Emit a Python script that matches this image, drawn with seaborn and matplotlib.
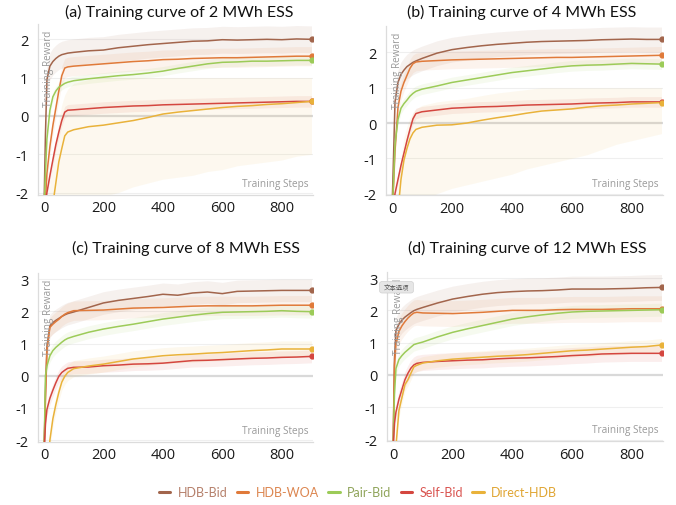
import numpy as np
import pandas as pd
import matplotlib
matplotlib.use("Agg")
import matplotlib.pyplot as plt
import seaborn as sns
from matplotlib.patches import FancyBboxPatch
from matplotlib.lines import Line2D

# ---------------- data ----------------
steps = [0, 5, 10, 20, 30, 40, 50, 60, 70, 80, 100, 150, 200, 250, 300, 350,
         400, 450, 500, 550, 600, 650, 700, 750, 800, 850, 900]

series_names = ["HDB-Bid", "HDB-WOA", "Pair-Bid", "Self-Bid", "Direct-HDB"]
line_colors = ["#a2654c", "#e07a3a", "#9ccb58", "#d4463f", "#e9b23a"]
label_colors = ["#b5806b", "#dc8650", "#8fa45a", "#d9534f", "#e0a533"]

titles = ["(a) Training curve of 2 MWh ESS", "(b) Training curve of 4 MWh ESS",
          "(c) Training curve of 8 MWh ESS", "(d) Training curve of 12 MWh ESS"]
yticks_ab = [-2, -1, 0, 1, 2]
yticks_cd = [-2, -1, 0, 1, 2, 3]
xticks = [0, 200, 400, 600, 800]

# (a) 2 MWh
a_hdb_bid = [-2.5, -0.5, 0.95, 1.3, 1.42, 1.5, 1.56, 1.6, 1.62, 1.64, 1.66, 1.7, 1.72, 1.78,
             1.82, 1.86, 1.89, 1.92, 1.95, 1.96, 1.99, 1.98, 1.99, 2.0, 1.99, 2.01, 2.0]
a_hdb_woa = [-2.5, -2.2, -1.5, -0.8, -0.25, 0.2, 0.65, 1.05, 1.25, 1.28, 1.3, 1.33, 1.36, 1.39,
             1.42, 1.44, 1.47, 1.48, 1.5, 1.51, 1.52, 1.52, 1.53, 1.54, 1.55, 1.56, 1.56]
a_pair_bid = [-2.5, -1.5, -0.6, 0.15, 0.5, 0.65, 0.75, 0.8, 0.85, 0.88, 0.92, 0.97, 1.01, 1.05,
              1.08, 1.12, 1.17, 1.24, 1.3, 1.36, 1.4, 1.41, 1.43, 1.43, 1.44, 1.45, 1.45]
a_self_bid = [-2.6, -2.3, -2.0, -1.56, -1.15, -0.75, -0.42, -0.12, 0.1, 0.15, 0.16, 0.19, 0.22,
              0.24, 0.26, 0.27, 0.29, 0.3, 0.31, 0.32, 0.33, 0.34, 0.35, 0.36, 0.37, 0.38, 0.38]
a_direct = [-3.0, -3.0, -3.0, -2.8, -2.3, -1.75, -1.2, -0.85, -0.52, -0.42, -0.36, -0.28, -0.24,
            -0.18, -0.12, -0.04, 0.05, 0.1, 0.14, 0.18, 0.22, 0.25, 0.27, 0.3, 0.32, 0.35, 0.38]
a_band = [0.35, 0.25, 0.12, 0.15]
a_direct_lo = [-3.0, -3.0, -3.0, -3.0, -3.0, -3.0, -3.0, -3.0, -3.0, -2.6, -2.4, -2.2, -2.1,
               -2.0, -1.85, -1.75, -1.65, -1.6, -1.55, -1.45, -1.4, -1.3, -1.25, -1.2, -1.15,
               -1.05, -1.0]
a_direct_hi = [-2.5, -2.4, -2.2, -1.8, -1.2, -0.6, -0.1, 0.3, 0.55, 0.7, 0.85, 0.95, 1.0, 1.0,
               1.0, 1.0, 1.0, 1.0, 1.0, 1.0, 1.0, 1.0, 1.0, 1.0, 1.0, 1.0, 1.0]

# (b) 4 MWh
b_hdb_bid = [-2.5, -1.0, 0.6, 1.15, 1.38, 1.5, 1.6, 1.66, 1.72, 1.76, 1.83, 1.98, 2.08, 2.14,
             2.19, 2.23, 2.26, 2.29, 2.31, 2.32, 2.33, 2.34, 2.36, 2.37, 2.38, 2.37, 2.37]
b_hdb_woa = [-2.6, -1.8, -0.8, 0.45, 0.9, 1.15, 1.35, 1.55, 1.68, 1.73, 1.75, 1.77, 1.79, 1.8,
             1.81, 1.82, 1.83, 1.84, 1.85, 1.86, 1.86, 1.87, 1.88, 1.89, 1.9, 1.91, 1.92]
b_pair_bid = [-2.6, -1.7, -0.6, 0.1, 0.42, 0.55, 0.65, 0.76, 0.84, 0.9, 0.96, 1.05, 1.15, 1.22,
              1.29, 1.36, 1.43, 1.48, 1.53, 1.58, 1.62, 1.64, 1.65, 1.67, 1.69, 1.68, 1.67]
b_self_bid = [-2.8, -2.4, -2.0, -1.6, -1.2, -0.85, -0.5, -0.18, 0.12, 0.27, 0.32, 0.37, 0.42,
              0.44, 0.46, 0.47, 0.49, 0.51, 0.52, 0.53, 0.54, 0.56, 0.57, 0.58, 0.6, 0.6, 0.6]
b_direct = [-3.0, -3.0, -3.0, -2.5, -1.6, -1.05, -0.72, -0.45, -0.28, -0.18, -0.12, -0.06, -0.05,
            0.0, 0.08, 0.15, 0.21, 0.28, 0.34, 0.37, 0.4, 0.45, 0.49, 0.51, 0.54, 0.56, 0.58]
b_band = [0.35, 0.25, 0.15, 0.15]
b_direct_lo = [-3.0, -3.0, -3.0, -3.0, -3.0, -3.0, -3.0, -3.0, -2.8, -2.5, -2.2, -2.0, -1.85,
               -1.75, -1.65, -1.55, -1.45, -1.3, -1.2, -1.1, -1.0, -0.9, -0.75, -0.6, -0.5,
               -0.4, -0.3]
b_direct_hi = [-2.5, -2.4, -2.2, -1.8, -1.0, -0.4, -0.1, 0.15, 0.3, 0.4, 0.5, 0.6, 0.65, 0.7,
               0.78, 0.85, 0.9, 0.95, 1.0, 1.0, 1.0, 1.0, 1.0, 1.0, 1.0, 1.0, 1.0]

# (c) 8 MWh
c_hdb_bid = [-2.5, -0.5, 0.9, 1.55, 1.65, 1.72, 1.78, 1.84, 1.89, 1.93, 1.98, 2.12, 2.26, 2.34,
             2.4, 2.46, 2.53, 2.5, 2.57, 2.6, 2.55, 2.62, 2.63, 2.64, 2.65, 2.65, 2.65]
c_hdb_woa = [-2.5, -0.8, 0.8, 1.5, 1.6, 1.68, 1.75, 1.84, 1.91, 1.96, 2.02, 2.03, 2.04, 2.07,
             2.1, 2.11, 2.12, 2.14, 2.16, 2.17, 2.17, 2.17, 2.17, 2.18, 2.19, 2.19, 2.19]
c_pair_bid = [-2.6, 0.0, 0.3, 0.62, 0.78, 0.88, 0.96, 1.04, 1.11, 1.16, 1.22, 1.35, 1.45, 1.53,
              1.6, 1.68, 1.76, 1.82, 1.88, 1.93, 1.97, 1.98, 1.99, 2.0, 2.02, 2.0, 1.99]
c_self_bid = [-2.5, -1.5, -1.05, -0.7, -0.45, -0.22, -0.02, 0.1, 0.17, 0.23, 0.26, 0.27, 0.31,
              0.33, 0.36, 0.37, 0.39, 0.43, 0.47, 0.48, 0.5, 0.52, 0.54, 0.55, 0.57, 0.58, 0.6]
c_direct = [-3.0, -3.0, -3.0, -2.0, -1.34, -0.9, -0.52, -0.2, -0.02, 0.1, 0.22, 0.3, 0.36, 0.44,
            0.52, 0.57, 0.62, 0.65, 0.67, 0.7, 0.72, 0.75, 0.78, 0.8, 0.83, 0.83, 0.83]
c_band = [0.35, 0.3, 0.2, 0.2, 0.25]

# (d) 12 MWh
d_hdb_bid = [-2.5, 0.5, 1.38, 1.57, 1.7, 1.79, 1.86, 1.93, 1.99, 2.03, 2.09, 2.23, 2.35, 2.43,
             2.5, 2.55, 2.58, 2.6, 2.61, 2.63, 2.66, 2.66, 2.66, 2.67, 2.68, 2.7, 2.71]
d_hdb_woa = [-2.5, 0.3, 0.95, 1.35, 1.52, 1.65, 1.76, 1.85, 1.92, 1.94, 1.92, 1.91, 1.9, 1.92,
             1.94, 1.97, 2.0, 2.0, 2.0, 2.02, 2.03, 2.03, 2.03, 2.04, 2.05, 2.05, 2.05]
d_pair_bid = [-2.5, -0.6, 0.2, 0.48, 0.6, 0.7, 0.78, 0.86, 0.94, 0.97, 1.02, 1.18, 1.32, 1.43,
              1.53, 1.63, 1.73, 1.8, 1.86, 1.91, 1.95, 1.97, 1.98, 1.99, 2.0, 2.01, 2.02]
d_self_bid = [-2.4, -1.5, -1.15, -0.75, -0.45, -0.15, 0.05, 0.21, 0.31, 0.36, 0.39, 0.42, 0.44,
              0.46, 0.47, 0.5, 0.52, 0.53, 0.55, 0.57, 0.6, 0.62, 0.65, 0.66, 0.67, 0.67, 0.67]
d_direct = [-3.0, -3.0, -2.2, -1.1, -0.7, -0.3, -0.15, 0.05, 0.25, 0.3, 0.37, 0.44, 0.49, 0.52,
            0.55, 0.58, 0.6, 0.63, 0.67, 0.71, 0.75, 0.77, 0.8, 0.83, 0.86, 0.88, 0.93]
d_band = [0.4, 0.4, 0.2, 0.25, 0.2]

# ---------------- style ----------------
sns.set_theme(style="white")
plt.rcParams["font.family"] = ["Open Sans", "DejaVu Sans"]

W, H = 676, 506
fig = plt.figure(figsize=(W / 100, H / 100), dpi=100)


def px_axes(x0, x1, ytop, ybot):
    return fig.add_axes([x0 / W, 1 - ybot / H, (x1 - x0) / W, (ybot - ytop) / H])


panels = [
    dict(rect=(38, 313, 25, 195.5), ylim=(-2.05, 2.4), yticks=yticks_ab,
         lines=[a_hdb_bid, a_hdb_woa, a_pair_bid, a_self_bid, a_direct],
         band=a_band, dlo=a_direct_lo, dhi=a_direct_hi, title_xy=(179, 12)),
    dict(rect=(386, 663, 27, 196.4), ylim=(-2.05, 2.75), yticks=yticks_ab,
         lines=[b_hdb_bid, b_hdb_woa, b_pair_bid, b_self_bid, b_direct],
         band=b_band, dlo=b_direct_lo, dhi=b_direct_hi, title_xy=(522, 12)),
    dict(rect=(38, 313, 273.7, 442.7), ylim=(-2.05, 3.2), yticks=yticks_cd,
         lines=[c_hdb_bid, c_hdb_woa, c_pair_bid, c_self_bid, c_direct],
         band=c_band, dlo=None, dhi=None, title_xy=(186, 248)),
    dict(rect=(387, 663, 272.6, 442.2), ylim=(-2.05, 3.2), yticks=yticks_cd,
         lines=[d_hdb_bid, d_hdb_woa, d_pair_bid, d_self_bid, d_direct],
         band=d_band, dlo=None, dhi=None, title_xy=(527, 248)),
]

for pi, p in enumerate(panels):
    ax = px_axes(*p["rect"])
    ax.set_facecolor("none")
    x = np.array(steps, dtype=float)
    # bands
    for si, vals in enumerate(p["lines"]):
        v = np.array(vals)
        if si == 4 and p["dlo"] is not None:
            lo, hi = np.array(p["dlo"]), np.array(p["dhi"])
            alpha = 0.08
        else:
            hw = p["band"][si]
            lo, hi = v - hw, v + hw
            alpha = 0.09
        ax.fill_between(x, lo, hi, color=line_colors[si], alpha=alpha,
                        linewidth=0, zorder=1)
    # grid
    for yt in p["yticks"]:
        ax.axhline(yt, color="#d9d9d9" if yt == 0 else "#efefef",
                   lw=1.6 if yt == 0 else 0.8, zorder=0.5)
    # lines
    for si, vals in enumerate(p["lines"]):
        df = pd.DataFrame({"step": steps, "reward": vals})
        sns.lineplot(data=df, x="step", y="reward", ax=ax, color=line_colors[si],
                     linewidth=1.1, zorder=3, legend=False)
        ax.plot([steps[-1]], [vals[-1]], "o", color=line_colors[si], ms=3.5, zorder=4)

    ax.set_xlim(-20, 905)
    ax.set_ylim(*p["ylim"])
    ax.set_xticks(xticks)
    ax.set_yticks(p["yticks"])
    ax.set_xticklabels([str(t) for t in xticks])
    ax.set_yticklabels([str(t) for t in p["yticks"]])
    ax.set_xlabel("")
    ax.set_ylabel("")
    for s in ["top", "right"]:
        ax.spines[s].set_visible(False)
    for s in ["left", "bottom"]:
        ax.spines[s].set_color("#dcdcdc")
        ax.spines[s].set_linewidth(0.9)
    ax.tick_params(axis="x", direction="in", length=4, width=0.8, color="#d8d8d8",
                   labelsize=10.5, labelcolor="#1a1a1a", pad=4)
    ax.tick_params(axis="y", direction="out", length=4, width=0.8, color="#e6e6e6",
                   labelsize=10.5, labelcolor="#1a1a1a", pad=3)
    ax.text(0.04, 0.965, "Training Reward", transform=ax.transAxes, rotation=90,
            ha="center", va="top", fontsize=7.2, color="#9a9a9a")
    ax.text(0.985, 0.035, "Training Steps", transform=ax.transAxes,
            ha="right", va="bottom", fontsize=7.2, color="#9a9a9a")
    tx, ty = p["title_xy"]
    fig.text(tx / W, 1 - ty / H, titles[pi], ha="center", va="center",
             fontsize=11.5, color="#111111", family=["Lato", "DejaVu Sans"])

# tooltip in panel (d)
fig.patches.append(FancyBboxPatch((381 / W, 1 - 293 / H), 31 / W, 9.5 / H,
                                  boxstyle="round,pad=0.002,rounding_size=0.004",
                                  transform=fig.transFigure, facecolor="#e6e6e6",
                                  edgecolor="#d0d0d0", linewidth=0.5, zorder=10))
fig.text(396.5 / W, 1 - 288 / H, "文本选项", ha="center", va="center", fontsize=4.6,
         color="#555555", family=["Noto Sans CJK SC", "DejaVu Sans"], zorder=11)

# legend
leg_handles = [Line2D([0], [0], color=c, lw=2.2) for c in line_colors]
fig.legend(leg_handles, series_names, loc="center", bbox_to_anchor=(358 / W, 1 - 493 / H),
           ncol=5, frameon=False, handlelength=0.9, handletextpad=0.6,
           columnspacing=0.75, prop={"family": "Lato", "size": 9},
           labelcolor=label_colors)

fig.savefig("out.png", dpi=100)
